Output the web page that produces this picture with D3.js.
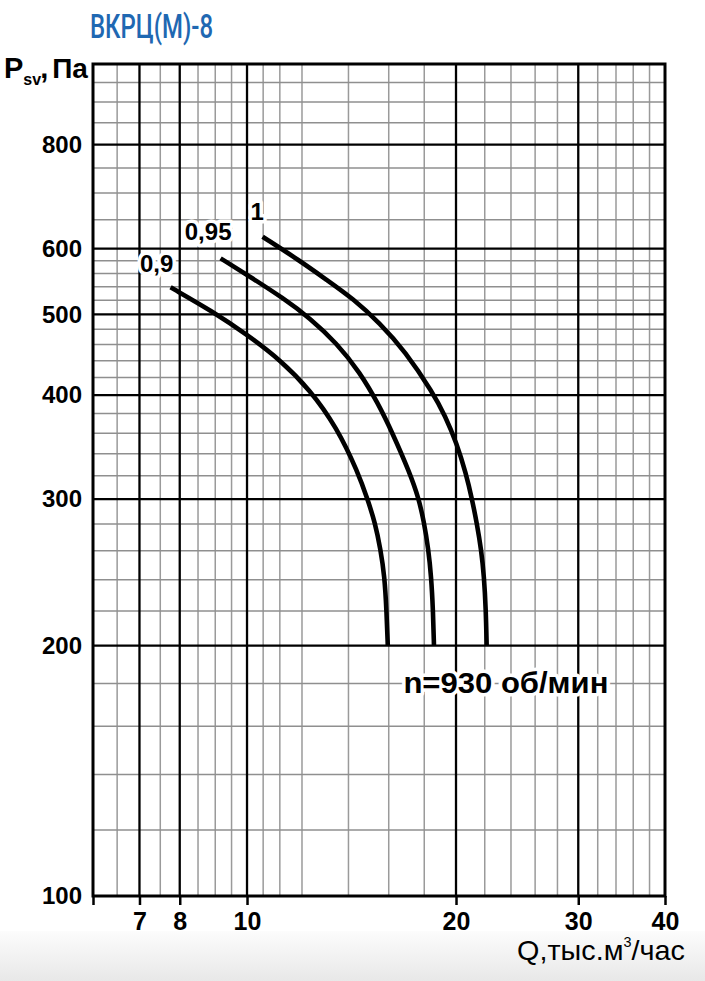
<!DOCTYPE html>
<html>
<head>
<meta charset="utf-8">
<script src="https://cdn.jsdelivr.net/npm/d3@7"></script>
<style>
  html, body { margin: 0; padding: 0; background: #fff; }
  svg { display: block; }
</style>
</head>
<body>
<svg id="chart" width="705" height="981"></svg>
<script>
// ---------------- data ----------------
const qTicks = [6, 7, 8, 10, 20, 30, 40];
const pTicks = [100, 200, 300, 400, 500, 600, 800];
const qMajor = [7, 8, 10, 20, 30];
const qMinor = [6.5, 7.5, 8.5, 9, 9.5, 10.55, 11.15, 12, 14, 16, 18, 22, 24, 26, 28, 32, 34, 36, 38];
const pMajor = [200, 300, 400, 500, 600, 800];
const pMinor = [120, 140, 160, 180, 220, 240, 260, 280, 320, 340, 360, 380,
                420, 440, 460, 480, 520, 540, 560, 580, 650, 700, 750, 850, 900, 950];

const curveNames = ["0,9", "0,95", "1"];
const q090 = [7.76, 8.93, 10.03, 11.16, 12.32, 13.46, 14.45, 14.93, 15.29, 15.57, 15.78, 15.88, 15.95];
const p090 = [539, 504, 472, 441, 406, 366, 323, 299, 281, 261, 242, 221, 200];
const q095 = [9.16, 10.10, 11.28, 12.32, 13.46, 14.54, 15.44, 16.18, 17.17, 17.66, 17.98, 18.25, 18.42, 18.53, 18.59];
const p095 = [584, 555, 523, 495, 462, 426, 391, 361, 322, 301, 282, 261, 242, 221, 200];
const q100 = [10.53, 11.92, 13.03, 14.23, 15.54, 16.88, 18.55, 19.28, 20.05, 20.67, 21.09, 21.44, 21.74, 21.95, 22.08, 22.14];
const p100 = [620, 580, 550, 522, 488, 452, 402, 378, 350, 322, 300, 280, 261, 242, 221, 200];

// label anchors (data coordinates)
const labelQ = [7.41, 8.79, 10.34];
const labelP = [562, 614, 649];
const speedText = "n=930 об/мин";
const speedQ = 23.6, speedP = 175.4;

const titleText = "ВКРЦ(М)-8";
const yTitle = ["P", "sv", ",", "Па"];
const xTitle = ["Q,тыс.м", "3", "/час"];

// ---------------- drawing ----------------
const svg = d3.select("#chart");
const x = d3.scaleLog().domain([6, 40]).range([93, 665]);
const y = d3.scaleLog().domain([100, 1000]).range([896, 64]);
const [x0, x1] = x.range();
const [y0, y1] = y.range();

// bottom shading
const defs = svg.append("defs");
const grad = defs.append("linearGradient").attr("id", "bg").attr("x1", 0).attr("y1", 0).attr("x2", 0).attr("y2", 1);
grad.append("stop").attr("offset", "0%").attr("stop-color", "#fcfcfc");
grad.append("stop").attr("offset", "100%").attr("stop-color", "#e8e8e8");
svg.append("rect").attr("x", 0).attr("y", 931).attr("width", 705).attr("height", 50).attr("fill", "url(#bg)");

// minor grid
const g = svg.append("g");
g.selectAll(".vmin").data(qMinor).join("line")
  .attr("x1", d => x(d)).attr("x2", d => x(d)).attr("y1", y0).attr("y2", y1)
  .attr("stroke", "#9a9a9a").attr("stroke-width", 1.5);
g.selectAll(".hmin").data(pMinor).join("line")
  .attr("y1", d => y(d)).attr("y2", d => y(d)).attr("x1", x0).attr("x2", x1)
  .attr("stroke", "#8f8f8f").attr("stroke-width", 1.5);
// major grid
g.selectAll(".vmaj").data(qMajor).join("line")
  .attr("x1", d => x(d)).attr("x2", d => x(d)).attr("y1", y0).attr("y2", y1)
  .attr("stroke", "#000").attr("stroke-width", 2.3);
g.selectAll(".hmaj").data(pMajor).join("line")
  .attr("y1", d => y(d)).attr("y2", d => y(d)).attr("x1", x0).attr("x2", x1)
  .attr("stroke", "#000").attr("stroke-width", 2.3);

// frame
svg.append("rect").attr("x", x0).attr("y", y1).attr("width", x1 - x0).attr("height", y0 - y1)
  .attr("fill", "none").attr("stroke", "#000").attr("stroke-width", 3);

// axes
const xAxis = svg.append("g").attr("transform", `translate(0,${y0})`)
  .call(d3.axisBottom(x).tickValues(qTicks).tickSize(9).tickPadding(7)
    .tickFormat(d => d === 6 ? "" : d3.format("d")(d)));
xAxis.select(".domain").remove();
xAxis.selectAll("line").attr("stroke", "#000").attr("stroke-width", 2.5);
xAxis.selectAll("text").attr("font-family", "'Liberation Sans', Arial, sans-serif")
  .attr("font-size", 25).attr("font-weight", "bold").attr("fill", "#000");

const yAxis = svg.append("g").attr("transform", `translate(${x0},0)`)
  .call(d3.axisLeft(y).tickValues(pTicks).tickSize(0).tickPadding(11).tickFormat(d3.format("d")));
yAxis.select(".domain").remove();
yAxis.selectAll("text").attr("font-family", "'Liberation Sans', Arial, sans-serif")
  .attr("font-size", 24).attr("font-weight", "bold").attr("fill", "#000");

// curves
const series = [
  q090.map((q, i) => [q, p090[i]]),
  q095.map((q, i) => [q, p095[i]]),
  q100.map((q, i) => [q, p100[i]])
];
const line = d3.line().x(d => x(d[0])).y(d => y(d[1])).curve(d3.curveBasis);
svg.append("g").selectAll("path").data(series).join("path")
  .attr("d", line).attr("fill", "none").attr("stroke", "#000")
  .attr("stroke-width", 4.6).attr("stroke-linecap", "butt").attr("stroke-linejoin", "round");

// curve labels with white halo
svg.append("g").selectAll("text").data(curveNames).join("text")
  .attr("x", (d, i) => x(labelQ[i])).attr("y", (d, i) => y(labelP[i]))
  .attr("text-anchor", "middle")
  .attr("font-family", "'Liberation Sans', Arial, sans-serif")
  .attr("font-size", 24).attr("font-weight", "bold")
  .attr("fill", "#000").attr("stroke", "#fff").attr("stroke-width", 7)
  .attr("stroke-linejoin", "round").attr("paint-order", "stroke")
  .text(d => d);

// speed label
svg.append("text")
  .attr("x", x(speedQ)).attr("y", y(speedP)).attr("text-anchor", "middle")
  .attr("font-family", "'Liberation Sans', Arial, sans-serif")
  .attr("font-size", 30).attr("font-weight", "bold")
  .attr("fill", "#000").attr("stroke", "#fff").attr("stroke-width", 7)
  .attr("stroke-linejoin", "round").attr("paint-order", "stroke")
  .attr("textLength", 205).attr("lengthAdjust", "spacingAndGlyphs")
  .text(speedText);

// title
svg.append("text").attr("x", 90).attr("y", 38)
  .attr("font-family", "Roboto, 'Liberation Sans', sans-serif").attr("font-weight", 500)
  .attr("font-size", 33).attr("fill", "#1f68b2")
  .attr("textLength", 123).attr("lengthAdjust", "spacingAndGlyphs")
  .text(titleText);

// y-axis title  P_sv, Па  (one text element)
const yt = svg.append("text").attr("x", 4).attr("y", 78)
  .attr("font-family", "'Liberation Sans', Arial, sans-serif")
  .attr("font-weight", "bold").attr("font-size", 29).attr("fill", "#000");
yt.append("tspan").text(yTitle[0]);
yt.append("tspan").attr("font-size", 16).attr("dx", 0).attr("dy", 7).text(yTitle[1]);
yt.append("tspan").attr("dx", -1).attr("dy", -7).text(yTitle[2]);
yt.append("tspan").attr("dx", 4).attr("font-size", 28).text(yTitle[3]);

// x-axis title
const xt = svg.append("text").attr("x", 0).attr("y", 0)
  .attr("font-family", "'Liberation Sans', Arial, sans-serif")
  .attr("font-size", 28).attr("fill", "#000");
xt.append("tspan").text(xTitle[0]);
xt.append("tspan").attr("font-size", 14).attr("dy", -13).text(xTitle[1]);
xt.append("tspan").attr("dy", 13).text(xTitle[2]);
const bw = xt.node().getBBox().width;
xt.attr("transform", `translate(517,960) scale(${168 / bw},1)`);
</script>
</body>
</html>
